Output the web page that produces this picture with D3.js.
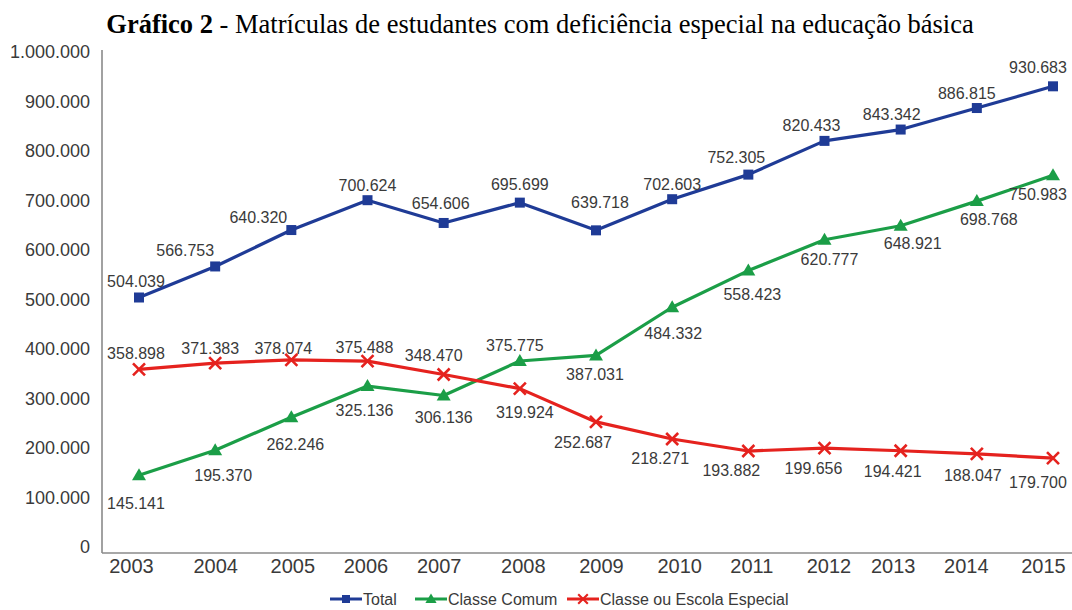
<!doctype html>
<html lang="pt-BR">
<head>
  <meta charset="utf-8" />
  <title>Gráfico 2 - Matrículas</title>
  <style>
    html, body { margin: 0; padding: 0; background: #fff; }
    svg { display: block; }
    text { font-family: "Liberation Sans", Arial, Helvetica, sans-serif; fill: #3a3a3a; }
    text.title { font-family: "Liberation Serif", "Times New Roman", serif; fill: #000; }
  </style>
</head>
<body>
<svg id="chart" width="1072" height="610"></svg>

<script src="https://cdn.jsdelivr.net/npm/d3@7"></script>
<script>

// Data
var years = ['2003', '2004', '2005', '2006', '2007', '2008', '2009', '2010', '2011', '2012', '2013', '2014', '2015'];
var total = [504039, 566753, 640320, 700624, 654606, 695699, 639718, 702603, 752305, 820433, 843342, 886815, 930683];
var classeComum = [145141, 195370, 262246, 325136, 306136, 375775, 387031, 484332, 558423, 620777, 648921, 698768, 750983];
var classeEspecial = [358898, 371383, 378074, 375488, 348470, 319924, 252687, 218271, 193882, 199656, 194421, 188047, 179700];
var yTicks = [0, 100000, 200000, 300000, 400000, 500000, 600000, 700000, 800000, 900000, 1000000];

// label placement (offsets from the marker)
var totalDx = [-3, -30, -33, 0, -3, 0, 4, 0, -12, -13, -9, -10, -15];
var totalDy = [-16, -16, -13, -15, -20, -18, -28, -15, -17, -16, -15, -15, -19];
var comumDx = [-3, 8, 4, -3, 0, -5, -1, 1, 4, 5, 12, 12, -15];
var comumDy = [28, 25, 27, 24, 22, -16, 19, 26, 24, 20, 17, 18, 19];
var especialDx = [-3, -5, -8, -3, -10, 5, -13, -12, -17, -11, -8, -4, -15];
var especialDy = [-16, -15, -12, -14, -19, 24, 20, 19, 19, 20, 20, 21, 24];
var yearDx = [-8, 0, 1, -2, -5, 3, 5, 7, 3, 4, -8, -11, -10];

var series = [
  { name: 'Total', values: total, color: '#1f3b96', symbol: 'square', dx: totalDx, dy: totalDy },
  { name: 'Classe Comum', values: classeComum, color: '#1b9e47', symbol: 'triangle', dx: comumDx, dy: comumDy },
  { name: 'Classe ou Escola Especial', values: classeEspecial, color: '#e5221e', symbol: 'cross', dx: especialDx, dy: especialDy }
];

var ptBR = d3.formatLocale({ decimal: ',', thousands: '.', grouping: [3], currency: ['R$', ''] });
var fmt = ptBR.format(',d');

var svg = d3.select('#chart');

var x = d3.scalePoint().domain(years).range([139, 1053]);
var y = d3.scaleLinear().domain([0, 1000000]).range([547, 52]);

// Title
var title = svg.append('text')
  .attr('class', 'title')
  .attr('x', 540)
  .attr('y', 33)
  .attr('text-anchor', 'middle')
  .style('font-size', '26.5px');
title.append('tspan').style('font-weight', 'bold').text('Gráfico 2');
title.append('tspan').text(' - Matrículas de estudantes com deficiência especial na educação básica');

// Axes lines
var axisColor = '#8a8a8a';
svg.append('line')
  .attr('x1', 102).attr('x2', 102)
  .attr('y1', y(1000000) - 2).attr('y2', y(0) + 6)
  .attr('stroke', axisColor).attr('stroke-width', 1.6);
svg.append('line')
  .attr('x1', 102).attr('x2', 1072)
  .attr('y1', y(0) + 6).attr('y2', y(0) + 6)
  .attr('stroke', axisColor).attr('stroke-width', 1.6);

// Y tick labels
var yAxis = svg.append('g')
  .attr('transform', 'translate(90,0)')
  .call(d3.axisLeft(y).tickValues(yTicks).tickSize(0).tickPadding(0).tickFormat(function (d) { return fmt(d); }));
yAxis.select('.domain').remove();
yAxis.selectAll('text')
  .style('font-family', '"Liberation Sans", Arial, sans-serif')
  .style('font-size', '18px')
  .attr('fill', '#3a3a3a');

// X tick labels
var xAxis = svg.append('g')
  .attr('transform', 'translate(0,' + (y(0) + 8) + ')')
  .call(d3.axisBottom(x).tickSize(0).tickPadding(4));
xAxis.select('.domain').remove();
xAxis.selectAll('text')
  .attr('dx', function (d, i) { return yearDx[i]; })
  .style('font-family', '"Liberation Sans", Arial, sans-serif')
  .style('font-size', '20px')
  .attr('fill', '#3a3a3a');

// Lines
var line = d3.line()
  .x(function (d, i) { return x(years[i]); })
  .y(function (d) { return y(d); });

function drawSymbol(g, type, color) {
  if (type === 'square') {
    g.append('rect').attr('x', -5).attr('y', -5).attr('width', 10).attr('height', 10)
      .attr('fill', color);
  } else if (type === 'triangle') {
    g.append('path').attr('d', 'M0,-7L7,5L-7,5Z').attr('fill', color);
  } else {
    g.append('path').attr('d', 'M-6,-6L6,6M-6,6L6,-6')
      .attr('stroke', color).attr('stroke-width', 2.6).attr('fill', 'none');
  }
}

series.forEach(function (s) {
  var g = svg.append('g');
  g.append('path')
    .datum(s.values)
    .attr('d', line)
    .attr('fill', 'none')
    .attr('stroke', s.color)
    .attr('stroke-width', 3.2)
    .attr('stroke-linejoin', 'round');

  g.selectAll('g.pt')
    .data(s.values)
    .enter()
    .append('g')
    .attr('class', 'pt')
    .attr('transform', function (d, i) { return 'translate(' + x(years[i]) + ',' + y(d) + ')'; })
    .each(function () { drawSymbol(d3.select(this), s.symbol, s.color); });
});

// Value labels
series.forEach(function (s) {
  svg.append('g').selectAll('text')
    .data(s.values)
    .enter()
    .append('text')
    .attr('x', function (d, i) { return x(years[i]) + s.dx[i]; })
    .attr('y', function (d, i) { return y(d) + s.dy[i]; })
    .attr('dy', '0.36em')
    .attr('text-anchor', 'middle')
    .style('font-size', '16px')
    .text(function (d) { return fmt(d); });
});

// Legend
var legendX = [330, 415, 567];
var legend = svg.append('g').attr('transform', 'translate(0,599)');
series.forEach(function (s, i) {
  var lg = legend.append('g').attr('transform', 'translate(' + legendX[i] + ',0)');
  lg.append('line').attr('x1', 0).attr('x2', 32).attr('y1', 0).attr('y2', 0)
    .attr('stroke', s.color).attr('stroke-width', 3);
  var m = lg.append('g').attr('transform', 'translate(16,0) scale(0.8)');
  drawSymbol(m, s.symbol, s.color);
  lg.append('text').attr('x', 33).attr('dy', '0.36em')
    .style('font-size', '16px')
    .text(s.name);
});

</script>
</body>
</html>
